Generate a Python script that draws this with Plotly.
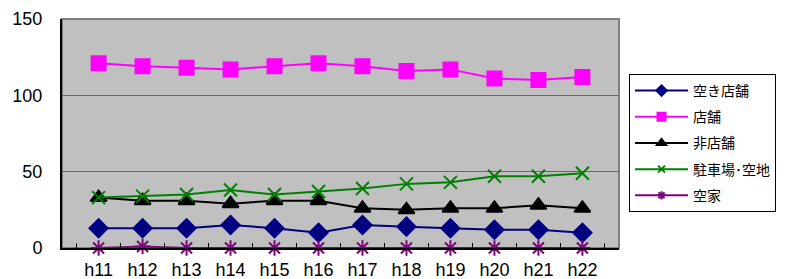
import plotly.graph_objects as go

years = ["h11", "h12", "h13", "h14", "h15", "h16", "h17", "h18", "h19", "h20", "h21", "h22"]
akitenpo = [13, 13, 13, 15, 13, 10, 15, 14, 13, 12, 12, 10]
tenpo = [121, 119, 118, 117, 119, 121, 119, 116, 117, 111, 110, 112]
hitenpo = [33, 31, 31, 29, 31, 31, 26, 25, 26, 26, 28, 26]
chusha = [33, 34, 35, 38, 35, 37, 39, 42, 43, 47, 47, 49]
akiya = [0, 1, 0, 0, 0, 0, 0, 0, 0, 0, 0, 0]
yticks = [0, 50, 100, 150]

series = [
    ("空き店舗", akitenpo, "#000080", "diamond", 14, 8),
    ("店舗", tenpo, "#FF00FF", "square", 14, 8),
    ("非店舗", hitenpo, "#000000", "triangle-up", 14, 8),
    ("駐車場･空地", chusha, "#008000", "x-thin-open", 13, 7),
    ("空家", akiya, "#800080", "asterisk-open", 13, 7),
]

fig = go.Figure()
for i, (name, vals, color, sym, size, lsize) in enumerate(series):
    fig.add_trace(go.Scatter(
        x=years, y=vals, name=name, mode="lines+markers",
        line=dict(color=color, width=2),
        marker=dict(symbol=sym, size=size, color=color,
                    line=dict(color=color, width=2)),
        cliponaxis=False, showlegend=False,
    ))
    # legend-only entry with small marker
    fig.add_trace(go.Scatter(
        x=[None], y=[None], name=name, mode="lines+markers",
        line=dict(color=color, width=2),
        marker=dict(symbol=sym, size=lsize, color=color,
                    line=dict(color=color, width=2)),
        legendgroup=f"g{i}", showlegend=True,
    ))

fig.add_shape(type="rect", xref="paper", yref="paper", x0=0, x1=1, y0=0, y1=1,
              line=dict(color="#808080", width=2), layer="below")

# page body has an 8px default margin, so the figure sits at (8, 8)
fig.update_layout(
    width=792, height=271,
    margin=dict(l=54, r=181, t=11, b=31),
    paper_bgcolor="white", plot_bgcolor="#C0C0C0",
    font=dict(family="Liberation Sans, Arial, sans-serif", size=18, color="black"),
    legend=dict(
        x=1.018, xanchor="left", y=0.76, yanchor="top",
        bgcolor="white", bordercolor="black", borderwidth=1,
        font=dict(family="Noto Sans CJK JP", size=14, color="black"),
        itemwidth=53, tracegroupgap=5,
    ),
    showlegend=True,
)
fig.update_xaxes(
    type="category", showline=True, linecolor="black", linewidth=2,
    ticks="inside", tickson="boundaries", ticklen=5, tickcolor="black",
    showgrid=False, tickfont=dict(size=18), automargin=False,
    ticklabelstandoff=4,
)
fig.update_yaxes(
    range=[0, 150], tickvals=yticks, showline=True, linecolor="black", linewidth=2,
    showgrid=True, gridcolor="#666666", gridwidth=1, zeroline=False,
    ticks="", ticklabelstandoff=14, tickfont=dict(size=18), automargin=False,
)

fig.write_html("out.html")
